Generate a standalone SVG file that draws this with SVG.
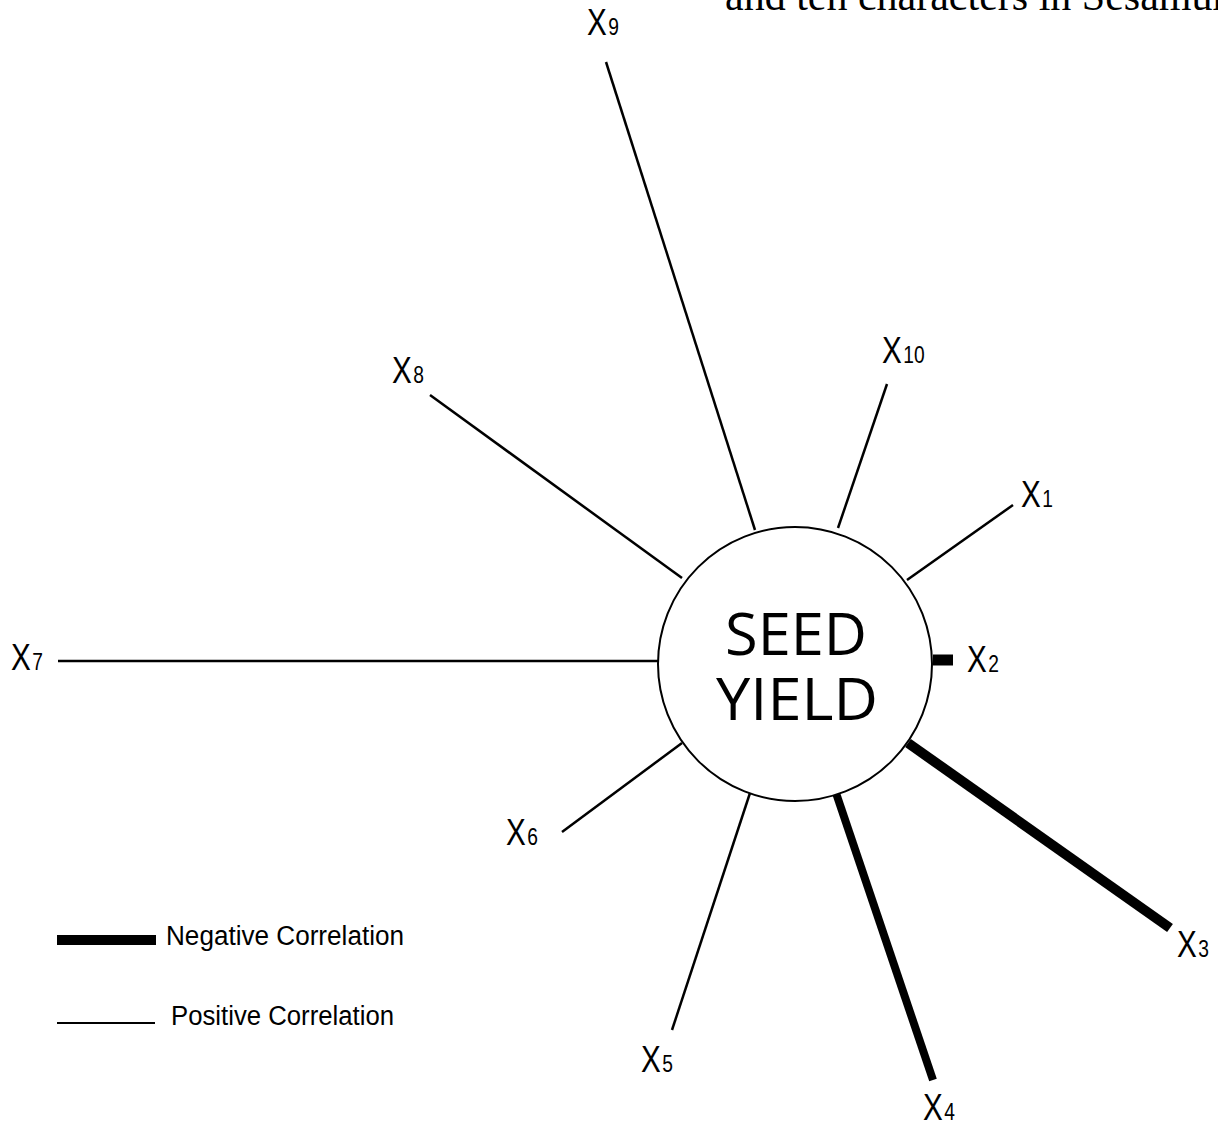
<svg xmlns="http://www.w3.org/2000/svg" width="1218" height="1123" viewBox="0 0 1218 1123">
<style>
.lbl{font-family:"Liberation Sans",Arial,sans-serif;font-size:37px;fill:#000}
.sub{font-size:24px}
.pos{stroke:#000;stroke-width:2.5;fill:none}
.neg{stroke:#000;stroke-width:9;fill:none}
.leg{font-family:"Liberation Sans",Arial,sans-serif;font-size:27px;fill:#000}
</style>
<rect width="1218" height="1123" fill="#fff"/>
<text x="725" y="10" font-family="'Liberation Serif',serif" font-size="42" fill="#000">and ten characters in Sesamum</text>
<g id="connectors">
<line class="pos" x1="606" y1="62" x2="755" y2="530"/>
<line class="pos" x1="887" y1="384" x2="838" y2="528"/>
<line class="pos" x1="430" y1="395" x2="682" y2="578"/>
<line class="pos" x1="1013" y1="505" x2="907" y2="580"/>
<line class="pos" x1="58" y1="661" x2="658" y2="661"/>
<line class="neg" x1="933" y1="660" x2="953" y2="660" style="stroke-width:11"/>
<line class="pos" x1="562" y1="832" x2="682" y2="743"/>
<line class="pos" x1="672" y1="1030" x2="750" y2="793"/>
<line class="neg" x1="836" y1="793" x2="933" y2="1080" style="stroke-width:8"/>
<line class="neg" x1="908" y1="743" x2="1170" y2="928" style="stroke-width:10"/>
</g>
<g id="seed-yield">
<circle cx="795" cy="664" r="137" fill="#fff" stroke="#000" stroke-width="2"/>
<text x="796" y="655" text-anchor="middle" font-family="'Open Sans','Noto Sans',sans-serif" font-size="59" textLength="142" lengthAdjust="spacingAndGlyphs">SEED</text>
<text x="797" y="720" text-anchor="middle" font-family="'Open Sans','Noto Sans',sans-serif" font-size="59" textLength="162" lengthAdjust="spacingAndGlyphs">YIELD</text>
</g>
<g id="x9"><text class="lbl" transform="translate(587,35) scale(0.8,1)">X<tspan class="sub" dx="2">9</tspan></text></g>
<g id="x10"><text class="lbl" transform="translate(882,363) scale(0.8,1)">X<tspan class="sub" dx="2">10</tspan></text></g>
<g id="x8"><text class="lbl" transform="translate(392,383) scale(0.8,1)">X<tspan class="sub" dx="2">8</tspan></text></g>
<g id="x1"><text class="lbl" transform="translate(1021,507) scale(0.8,1)">X<tspan class="sub" dx="2">1</tspan></text></g>
<g id="x7"><text class="lbl" transform="translate(11,670) scale(0.8,1)">X<tspan class="sub" dx="2">7</tspan></text></g>
<g id="x2"><text class="lbl" transform="translate(967,672) scale(0.8,1)">X<tspan class="sub" dx="2">2</tspan></text></g>
<g id="x6"><text class="lbl" transform="translate(506,845) scale(0.8,1)">X<tspan class="sub" dx="2">6</tspan></text></g>
<g id="x5"><text class="lbl" transform="translate(641,1072) scale(0.8,1)">X<tspan class="sub" dx="2">5</tspan></text></g>
<g id="x4"><text class="lbl" transform="translate(923,1120) scale(0.8,1)">X<tspan class="sub" dx="2">4</tspan></text></g>
<g id="x3"><text class="lbl" transform="translate(1177,957) scale(0.8,1)">X<tspan class="sub" dx="2">3</tspan></text></g>
<g id="legend">
<line x1="57" y1="940" x2="156" y2="940" stroke="#000" stroke-width="10"/>
<text class="leg" x="166" y="945" textLength="238" lengthAdjust="spacingAndGlyphs">Negative Correlation</text>
<line x1="57" y1="1023" x2="155" y2="1023" stroke="#000" stroke-width="2"/>
<text class="leg" x="171" y="1025" textLength="223" lengthAdjust="spacingAndGlyphs">Positive Correlation</text>
</g>
</svg>
